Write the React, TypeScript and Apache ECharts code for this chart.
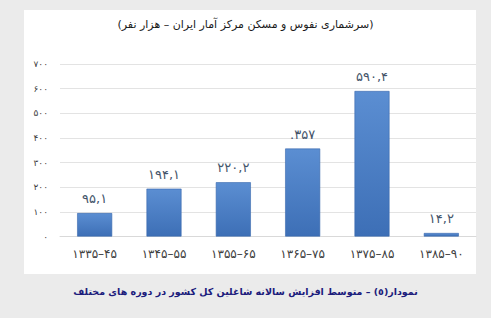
import React, { useEffect, useRef } from "react";
import * as echarts from "echarts";

const categories = ["۱۳۳۵–۴۵", "۱۳۴۵–۵۵", "۱۳۵۵–۶۵", "۱۳۶۵–۷۵", "۱۳۷۵–۸۵", "۱۳۸۵–۹۰"];
const values = [95.1, 194.1, 220.2, 357, 590.4, 14.2];
const valueLabels = ["۹۵,۱", "۱۹۴,۱", "۲۲۰,۲", ".۳۵۷", "۵۹۰,۴", "۱۴,۲"];
const yTickLabels: Record<number, string> = {
  0: "۰", 100: "۱۰۰", 200: "۲۰۰", 300: "۳۰۰", 400: "۴۰۰", 500: "۵۰۰", 600: "۶۰۰", 700: "۷۰۰",
};
const titleText = "\u200F(سرشماری نفوس و مسکن مرکز آمار ایران – هزار نفر)\u200F";
const captionText = "\u200Fنمودار(٥) – متوسط افزایش سالانه شاغلین کل کشور در دوره های مختلف\u200F";

export default function App() {
  const ref = useRef<HTMLDivElement>(null);
  useEffect(() => {
    document.body.style.margin = "0";
    const chart = echarts.init(ref.current!, null, { renderer: "svg" });
    chart.setOption({
      animation: false,
      backgroundColor: "#ebebeb",
      graphic: [
        { type: "rect", z: -10, shape: { x: 24, y: 10, width: 452, height: 264 }, style: { fill: "#ffffff" } },
        {
          type: "text", left: "center", top: 19,
          style: { text: titleText, font: "11px 'DejaVu Sans', sans-serif", fill: "#1a1a1a" },
        },
        {
          type: "text", left: "center", top: 286,
          style: { text: captionText, font: "bold 9.5px 'DejaVu Sans', sans-serif", fill: "#1c1c7c" },
        },
      ],
      grid: { left: 60, right: 15, top: 64, bottom: 81.5 },
      xAxis: {
        type: "category",
        data: categories,
        axisLine: { show: true, lineStyle: { color: "#d9d9d9" } },
        axisTick: { show: false },
        axisLabel: { color: "#404040", fontSize: 12, margin: 11, fontFamily: "'DejaVu Sans', sans-serif" },
      },
      yAxis: {
        type: "value",
        min: 0, max: 700, interval: 100,
        axisLine: { show: false },
        axisTick: { show: false },
        splitLine: { lineStyle: { color: "#e3e3e3" } },
        axisLabel: {
          color: "#404040", fontSize: 9, margin: 12, fontFamily: "'DejaVu Sans', sans-serif",
          formatter: (v: number) => yTickLabels[v] ?? String(v),
        },
      },
      series: [
        {
          type: "bar",
          data: values,
          barWidth: 35,
          itemStyle: {
            color: new echarts.graphic.LinearGradient(0, 0, 0, 1, [
              { offset: 0, color: "#5b8ed2" },
              { offset: 1, color: "#3d6fb6" },
            ]),
            borderColor: "#3867ad",
            borderWidth: 0.6,
          },
          label: {
            show: true, position: "top", distance: 8,
            color: "#44546a", fontSize: 13, fontFamily: "'DejaVu Sans', sans-serif",
            formatter: (p: any) => valueLabels[p.dataIndex],
          },
        },
      ],
    });
    return () => chart.dispose();
  }, []);
  return <div ref={ref} style={{ width: 491, height: 318 }} />;
}
